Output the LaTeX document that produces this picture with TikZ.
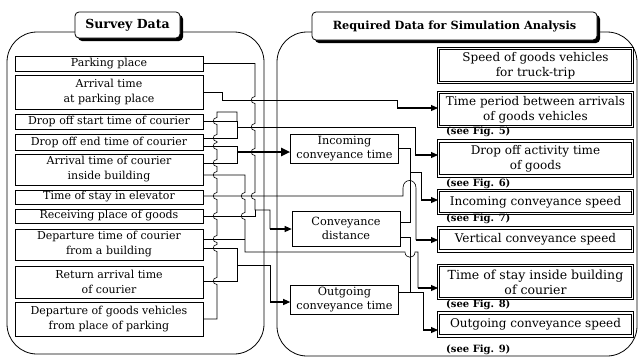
\documentclass[tikz,border=0pt]{standalone}
\usepackage{fontspec}
\setmainfont{DejaVu Serif}
\usetikzlibrary{arrows.meta}
\newcommand\hopv[2]{-- (#1,#2-3.5) .. controls (#1-5,#2-3.5) and (#1-5,#2+3.5) .. (#1,#2+3.5)}
\begin{document}
\begin{tikzpicture}[x=1pt,y=-1pt,
  panel/.style={draw, line width=0.8pt},
  titlebox/.style={draw, line width=0.8pt, fill=white, rounded corners=4pt, inner sep=0pt, font=\bfseries\fontsize{11.3}{12}\selectfont},
  lbox/.style={draw, line width=0.7pt, fill=white, minimum width=188pt, inner sep=0pt, align=center, font=\fontsize{11}{15}\selectfont},
  mbox/.style={draw, line width=0.6pt, fill=white, minimum width=108pt, inner sep=0pt, align=center, font=\fontsize{11.3}{14}\selectfont},
  rbox/.style={draw, line width=1pt, double, double distance=1.2pt, fill=white, minimum width=194pt, inner sep=0pt, align=center, font=\fontsize{12}{15}\selectfont},
  seefig/.style={anchor=west, inner sep=0pt, font=\bfseries\fontsize{10}{11}\selectfont},
  wire/.style={draw, line width=0.6pt},
  arr/.style={draw, line width=1.1pt, -{Triangle[length=7pt,width=6pt]}},
  thickarr/.style={draw, line width=2pt, -{Triangle[length=9pt,width=8pt]}}
]
\useasboundingbox (0,0) rectangle (640,357);
% panels
\draw[panel, rounded corners=30pt] (7,354) rectangle (264,32);
\draw[panel, rounded corners=30pt] (277,356) rectangle (637,32);
% titles
\fill[rounded corners=4pt] (78,15) rectangle (183,41);
\node[titlebox, minimum width=105pt, minimum height=26pt, font=\bfseries\fontsize{12.5}{13}\selectfont] (t1) at (127.5,25) {Survey Data};
\fill[rounded corners=4pt] (315,15) rectangle (600,43);
\node[titlebox, minimum width=285pt, minimum height=28pt] (t2) at (454.5,26) {Required Data for Simulation Analysis};
% left boxes
\node[lbox, minimum height=15pt] (pp) at (109,63.5) {Parking place};
\node[lbox, minimum height=34pt] (ap) at (109,92) {Arrival time\\at parking place};
\node[lbox, minimum height=15pt] (ds) at (109,121.5) {Drop off start time of courier};
\node[lbox, minimum height=16pt] (de) at (109,142) {Drop off end time of courier};
\node[lbox, minimum height=31pt] (ai) at (109,169.5) {Arrival time of courier\\inside building};
\node[lbox, minimum height=14pt] (el) at (109,197) {Time of stay in elevator};
\node[lbox, minimum height=14pt] (rp) at (109,216) {Receiving place of goods};
\node[lbox, minimum height=31pt] (db) at (109,244.5) {Departure time of courier\\from a building};
\node[lbox, minimum height=32pt] (ra) at (109,282) {Return arrival time\\of courier};
\node[lbox, minimum height=34pt] (dg) at (109,319) {Departure of goods vehicles\\from place of parking};
% middle boxes
\node[mbox, minimum height=29pt] (ict) at (344.5,148.5) {Incoming\\conveyance time};
\node[mbox, minimum height=35pt] (cdist) at (346,228.5) {Conveyance\\distance};
\node[mbox, minimum height=29pt] (oct) at (344.5,299.5) {Outgoing\\conveyance time};
% right boxes
\node[rbox, minimum height=34pt] (r1) at (535.5,65.5) {Speed of goods vehicles\\for truck-trip};
\node[rbox, minimum height=34pt] (r2) at (535.5,109.5) {Time period between arrivals\\of goods vehicles};
\node[rbox, minimum height=35pt] (r3) at (535.5,158.5) {Drop off activity time\\of goods};
\node[rbox, minimum height=23pt] (r4) at (535.5,202) {Incoming conveyance speed};
\node[rbox, minimum height=23pt] (r5) at (535.5,239.5) {Vertical conveyance speed};
\node[rbox, minimum height=33pt, font=\fontsize{12.5}{15}\selectfont] (r6) at (535.5,282) {Time of stay inside building\\of courier};
\node[rbox, minimum height=23pt] (r7) at (535.5,324.5) {Outgoing conveyance speed};
% see fig labels
\node[seefig] (f5) at (446,132) {(see Fig. 5)};
\node[seefig] (f6) at (446,184) {(see Fig. 6)};
\node[seefig] (f7) at (446,219) {(see Fig. 7)};
\node[seefig] (f8) at (446,305) {(see Fig. 8)};
\node[seefig] (f9) at (446,350) {(see Fig. 9)};
% ---- connectors ----
% arrival at parking place -> time period between arrivals
\draw[wire] (ap.east |- 0,92) -- (222,92) -- (222,100) -- (397,100) -- (397,108) coordinate (a2);
\draw[arr] (a2) -- (r2.west |- a2);
% parking place + receiving place -> conveyance distance
\draw[wire] (pp.east |- 0,63.5) -- (255,63.5) \hopv{255}{100} \hopv{255}{127} \hopv{255}{152} \hopv{255}{196} -- (255,210) -- (270,210) -- (270,229) coordinate (acd);
\draw[arr] (acd) -- (cdist.west |- acd);
\draw[wire] (rp.east |- 0,216) -- (255,216) -- (255,210);
% drop off start/end -> drop off activity time
\draw[wire] (ds.east |- 0,121) -- (237,121) -- (237,138) -- (de.east |- 0,138);
\draw[wire] (237,127) -- (415,127) -- (415,155) coordinate (a3);
\draw[arr] (a3) -- (r3.west |- a3);
% departure of goods vehicles lane
\draw[wire] (237,121) -- (237,112) -- (217,112) \hopv{217}{121} \hopv{217}{138} \hopv{217}{146} \hopv{217}{163} \hopv{217}{175} \hopv{217}{196} \hopv{217}{216} \hopv{217}{239} \hopv{217}{248} \hopv{217}{281} -- (217,319) -- (dg.east |- 0,319);
% drop off end + arrival inside building -> incoming conveyance time
\draw[wire] (de.east |- 0,146) -- (237,146) -- (237,163) -- (ai.east |- 0,163);
\draw[thickarr] (237,152) -- (ict.west |- 0,152);
% arrival inside + departure from building -> time of stay inside building
\draw[wire] (ai.east |- 0,175) -- (245,175) \hopv{245}{196} \hopv{245}{216} -- (245,252) -- (405,252) .. controls (405,259) and (415,259) .. (415,252) -- (418,252) -- (418,288) coordinate (a6);
\draw[wire] (db.east |- 0,239) -- (245,239);
\draw[arr] (a6) -- (r6.west |- a6);
% departure from building + return arrival -> outgoing conveyance time
\draw[wire] (db.east |- 0,248) -- (237,248) -- (237,281) -- (ra.east |- 0,281);
\draw[wire] (237,265) -- (270,265) -- (270,302) coordinate (aoc);
\draw[arr] (aoc) -- (oct.west |- aoc);
% time of stay in elevator -> vertical conveyance speed
\draw[wire] (el.east |- 0,196) -- (403,196) -- (403,188) .. controls (403,178) and (416,178) .. (416,188) -- (416,240) coordinate (a5);
\draw[arr] (a5) -- (r5.west |- a5);
% incoming time + distance -> incoming speed
\draw[wire] (ict.east |- 0,148) -- (410,148) -- (410,222) -- (cdist.east |- 0,222);
\draw[wire] (410,172) -- (421,172) -- (421,200) coordinate (a4);
\draw[arr] (a4) -- (r4.west |- a4);
% distance + outgoing time -> outgoing speed
\draw[wire] (cdist.east |- 0,237) -- (410,237) -- (410,292) -- (oct.east |- 0,292);
\draw[wire] (410,292) -- (423,292) -- (423,330) coordinate (a7);
\draw[arr] (a7) -- (r7.west |- a7);
\end{tikzpicture}
\end{document}
